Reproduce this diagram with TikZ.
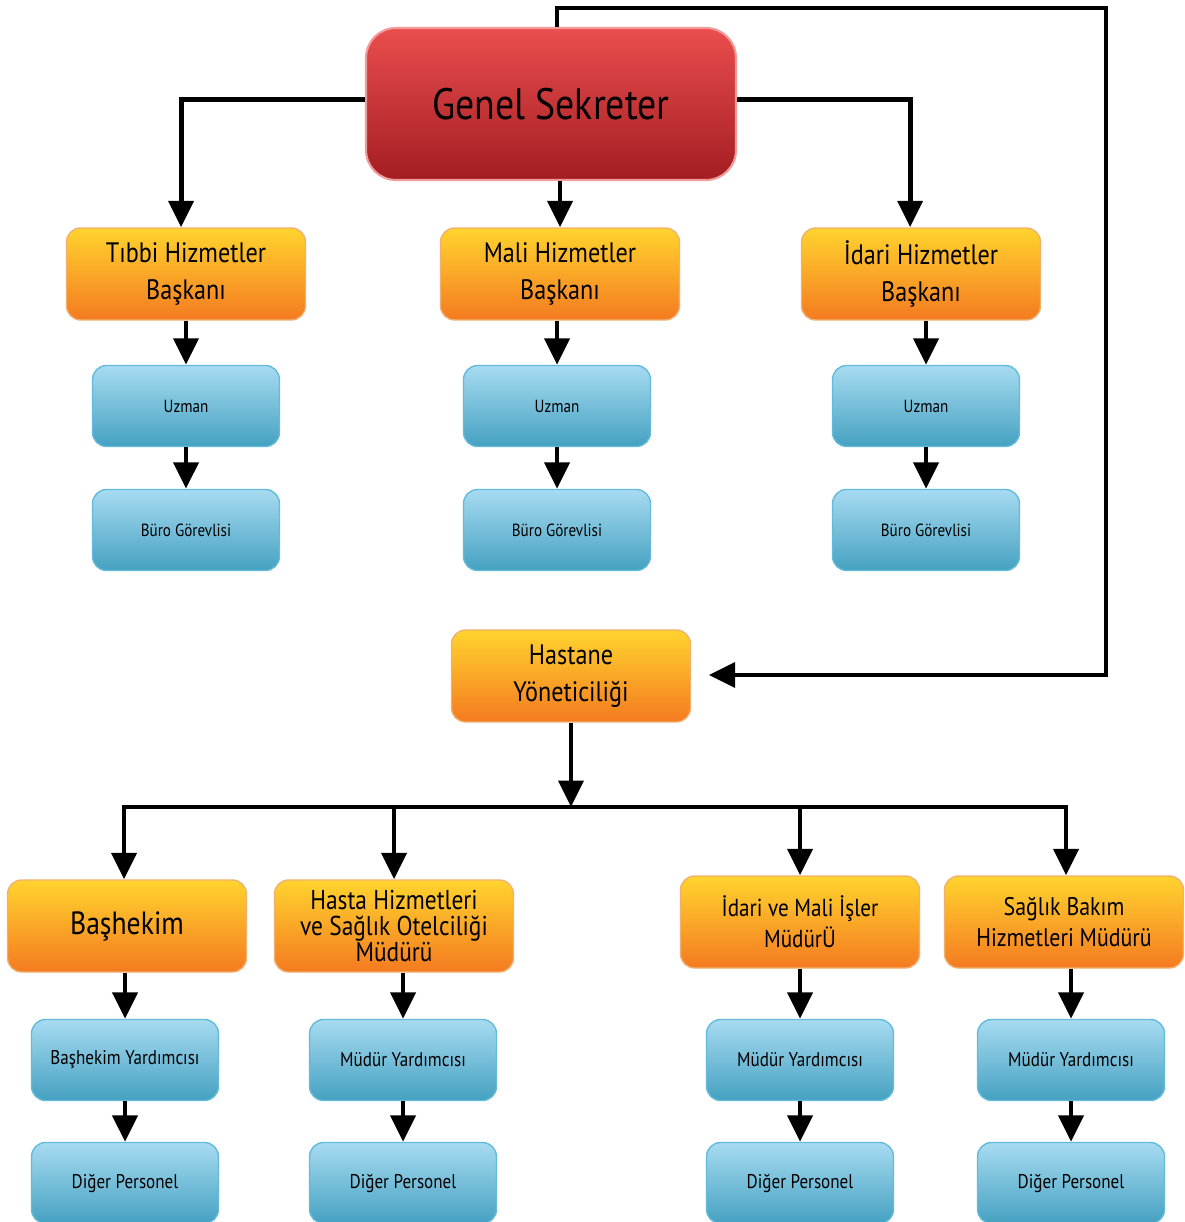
\documentclass[tikz,border=0pt]{standalone}
\usepackage{fontspec}
\setmainfont[FakeStretch=0.86]{PT Sans}
\usetikzlibrary{arrows.meta}

\definecolor{redtop}{HTML}{EA4E4E}
\definecolor{redbot}{HTML}{A31D22}
\definecolor{redline}{HTML}{F29A9A}
\definecolor{orgtop}{HTML}{FFD42E}
\definecolor{orgbot}{HTML}{F47A20}
\definecolor{orgline}{HTML}{F0B070}
\definecolor{blutop}{HTML}{A7DBF1}
\definecolor{blubot}{HTML}{45A1C1}
\definecolor{bluline}{HTML}{62BBDA}

\tikzset{
	chief/.style={draw=redline, line width=1.2pt, top color=redtop, bottom color=redbot, rounded corners=17pt, minimum width=7.4cm, minimum height=3.04cm, font=\fontsize{25}{29}\selectfont},
	head/.style={draw=orgline, line width=0.8pt, top color=orgtop, bottom color=orgbot, rounded corners=8pt, minimum width=4.78cm, minimum height=1.84cm, align=center, inner sep=2pt},
	staff/.style={draw=bluline, line width=0.8pt, top color=blutop, bottom color=blubot, rounded corners=8pt, minimum width=3.74cm, minimum height=1.62cm, align=center},
	arr/.style={line width=2.8pt, -{Triangle[width=14pt, length=15pt]}},
	wire/.style={line width=2.8pt}
}

\begin{document}
\begin{tikzpicture}[x=0.02cm, y=-0.02cm, line join=miter]
	\useasboundingbox (0, 0) rectangle (1184, 1222);

	% ust kisim
	\node[chief] (gs) at (551, 104) {Genel Sekreter};
	\node[head, font=\fontsize{16}{21}\selectfont] (tibbi) at (186, 274) {Tıbbi Hizmetler\\Başkanı};
	\node[head, font=\fontsize{16}{21}\selectfont] (mali) at (560, 274) {Mali Hizmetler\\Başkanı};
	\node[head, font=\fontsize{16}{21}\selectfont] (idari) at (921, 274) {İdari Hizmetler\\Başkanı};

	\node[staff, font=\fontsize{10}{12}\selectfont] (uzT) at (186, 406) {Uzman};
	\node[staff, font=\fontsize{10}{12}\selectfont] (uzM) at (557, 406) {Uzman};
	\node[staff, font=\fontsize{10}{12}\selectfont] (uzI) at (926, 406) {Uzman};
	\node[staff, font=\fontsize{10}{12}\selectfont] (buT) at (186, 530) {Büro Görevlisi};
	\node[staff, font=\fontsize{10}{12}\selectfont] (buM) at (557, 530) {Büro Görevlisi};
	\node[staff, font=\fontsize{10}{12}\selectfont] (buI) at (926, 530) {Büro Görevlisi};

	% hastane
	\node[head, font=\fontsize{16}{21}\selectfont] (hy) at (571, 676) {Hastane\\Yöneticiliği};

	\node[head, font=\fontsize{18.3}{20}\selectfont] (bas) at (127, 926) {Başhekim};
	\node[head, font=\fontsize{15.5}{14.7}\selectfont] (hh) at (394, 926) {Hasta Hizmetleri\\ve Sağlık Otelciliği\\Müdürü};
	\node[head, font=\fontsize{14}{17.5}\selectfont] (im) at (800, 922) {İdari ve Mali İşler\\MüdürÜ};
	\node[head, font=\fontsize{14.5}{18}\selectfont] (sb) at (1064, 922) {Sağlık Bakım\\Hizmetleri Müdürü};

	\node[staff, font=\fontsize{11.3}{13}\selectfont] (yBas) at (125, 1060) {Başhekim Yardımcısı};
	\node[staff, font=\fontsize{11.3}{13}\selectfont] (yHh) at (403, 1060) {Müdür Yardımcısı};
	\node[staff, font=\fontsize{11.3}{13}\selectfont] (yIm) at (800, 1060) {Müdür Yardımcısı};
	\node[staff, font=\fontsize{11.3}{13}\selectfont] (ySb) at (1071, 1060) {Müdür Yardımcısı};
	\node[staff, font=\fontsize{11.3}{13}\selectfont] (dBas) at (125, 1183) {Diğer Personel};
	\node[staff, font=\fontsize{11.3}{13}\selectfont] (dHh) at (403, 1183) {Diğer Personel};
	\node[staff, font=\fontsize{11.3}{13}\selectfont] (dIm) at (800, 1183) {Diğer Personel};
	\node[staff, font=\fontsize{11.3}{13}\selectfont] (dSb) at (1071, 1183) {Diğer Personel};

	\coordinate (top) at (557, 8);
	\coordinate (rgt) at (1106, 675);
	\coordinate (bus) at (571, 807);
	\coordinate (busL) at (124, 807);
	\coordinate (busR) at (1066, 807);

	% baglantilar
	\draw[arr] ([yshift=2.3pt]gs.west) -| ([xshift=-2.8pt]tibbi.north);
	\draw[arr] ([yshift=2.3pt]gs.east) -| ([xshift=-6.2pt]idari.north);
	\draw[arr] (gs.south -| mali.north) -- (mali.north);
	\draw[arr, shorten >=10pt] (gs.north -| top) -- (top) -| (rgt) -- (rgt -| hy.east);

	\draw[arr] (tibbi.south -| uzT) -- (uzT.north);
	\draw[arr] (mali.south -| uzM) -- (uzM.north);
	\draw[arr] (idari.south -| uzI) -- (uzI.north);
	\draw[arr] (uzT) -- (buT);
	\draw[arr] (uzM) -- (buM);
	\draw[arr] (uzI) -- (buI);

	\draw[arr] (hy) -- (bus);
	\draw[wire, line cap=rect] (busL) -- (busR);
	\draw[arr] (busL) -- (busL |- bas.north);
	\draw[arr] (bus -| hh.north) -- (hh.north);
	\draw[arr] (bus -| im.north) -- (im.north);
	\draw[arr] (busR) -- (busR |- sb.north);

	\draw[arr] (bas.south -| yBas) -- (yBas.north);
	\draw[arr] (hh.south -| yHh) -- (yHh.north);
	\draw[arr] (im.south -| yIm) -- (yIm.north);
	\draw[arr] (sb.south -| ySb) -- (ySb.north);
	\draw[arr] (yBas) -- (dBas);
	\draw[arr] (yHh) -- (dHh);
	\draw[arr] (yIm) -- (dIm);
	\draw[arr] (ySb) -- (dSb);
\end{tikzpicture}
\end{document}
